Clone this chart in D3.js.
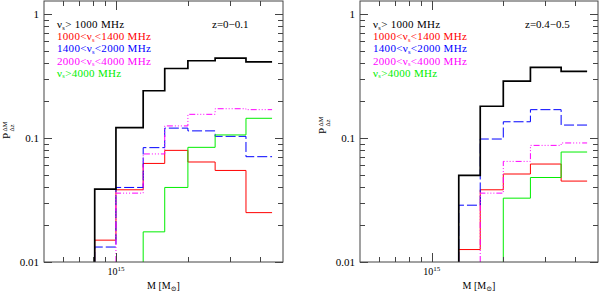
<!DOCTYPE html>
<html>
<head>
<meta charset="utf-8">
<script src="https://cdn.jsdelivr.net/npm/d3@7"></script>
<style>
  body { margin: 0; background: #fff; }
  svg text { font-family: "Liberation Serif", "DejaVu Serif", serif; }
</style>
</head>
<body>
<script>
// mass bin edges, in units of 10^15 Msun
var massEdges = [0.815, 1.0, 1.3, 1.6, 2.0, 2.6, 3.5, 4.5];

// z = 0 - 0.1
var lowAll   = [0.0387, 0.121, 0.24, 0.363, 0.419, 0.44, 0.411];
var lowBand1 = [0.015, 0.0382, 0.0623, 0.0794, 0.064, 0.0547, 0.025];
var lowBand2 = [0.0132, 0.0399, 0.0835, 0.12, 0.114, 0.103, 0.0706];
var lowBand3 = [null, 0.0359, 0.0743, 0.125, 0.155, 0.172, 0.169];
var lowBand4 = [null, null, 0.0175, 0.0399, 0.084, 0.1057, 0.144];

// z = 0.4 - 0.5
var highAll   = [null, null, 0.0499, 0.18, 0.287, 0.37, 0.344];
var highBand1 = [null, null, 0.0126, 0.0382, 0.0512, 0.0616, 0.0449];
var highBand2 = [null, null, 0.0287, 0.098, 0.135, 0.169, 0.127];
var highBand3 = [null, null, null, 0.0359, 0.0647, 0.0871, 0.0911];
var highBand4 = [null, null, null, null, 0.0327, 0.048, 0.077];

var legendLabels = [
  ["", "> 1000 MHz"],
  ["1000<", "<1400 MHz"],
  ["1400<", "<2000 MHz"],
  ["2000<", "<4000 MHz"],
  ["", ">4000 MHz"]
];
var seriesColors = ["#000000", "#ff0000", "#0000ff", "#ff00ff", "#00ee00"];
var seriesDash = [null, null, "10,3", "6,2,1,2,1,2,1,2", null];
var seriesWidth = [1.7, 1, 1, 1, 1];

var yTickLabels = [[1, "1"], [0.1, "0.1"], [0.01, "0.01"]];
var xMinorTicks = [0.6, 0.7, 0.8, 0.9, 2, 3, 4];
var yMinorTicks = [0.02, 0.03, 0.04, 0.05, 0.06, 0.07, 0.08, 0.09, 0.2, 0.3, 0.4, 0.5, 0.6, 0.7, 0.8, 0.9];

var panels = [
  { left: 44, right: 283, zText: "z=0\u22120.1", zX: 212, labelY: 139,
    series: [lowAll, lowBand1, lowBand2, lowBand3, lowBand4] },
  { left: 360, right: 598, zText: "z=0.4\u22120.5", zX: 525, labelY: 134,
    series: [highAll, highBand1, highBand2, highBand3, highBand4] }
];

var plotTop = 1, plotBottom = 262;
var frameColor = "#444";

var svg = d3.select("body").append("svg")
  .attr("width", 600)
  .attr("height", 292);

panels.forEach(function(p) {
  var x = d3.scaleLog().domain([0.5, 5]).range([p.left, p.right]);
  var y = d3.scaleLog().domain([0.01, 1.27]).range([plotBottom, plotTop]);
  var g = svg.append("g");

  // step histograms
  var line = d3.line()
    .x(function(d) { return x(d[0]); })
    .y(function(d) { return y(d[1]); })
    .curve(d3.curveStepAfter);

  // draw black last so it sits on top
  [1, 2, 3, 4, 0].forEach(function(k) {
    var vals = p.series[k];
    var start = vals.findIndex(function(v) { return v != null; });
    var pts = [[massEdges[start], 0.01]];
    for (var i = start; i < vals.length; i++) pts.push([massEdges[i], vals[i]]);
    pts.push([massEdges[vals.length], vals[vals.length - 1]]);
    g.append("path")
      .attr("d", line(pts))
      .attr("fill", "none")
      .attr("stroke", seriesColors[k])
      .attr("stroke-width", seriesWidth[k])
      .attr("stroke-dasharray", seriesDash[k]);
  });

  // frame
  g.append("rect")
    .attr("x", p.left).attr("y", plotTop)
    .attr("width", p.right - p.left).attr("height", plotBottom - plotTop)
    .attr("fill", "none").attr("stroke", frameColor).attr("stroke-width", 1);

  // x ticks, top and bottom
  var xt = xMinorTicks.map(function(v) { return [v, 5]; }).concat([[1, 9]]);
  xt.forEach(function(t) {
    var xx = Math.round(x(t[0])) + 0.5;
    g.append("line").attr("x1", xx).attr("x2", xx).attr("y1", plotBottom).attr("y2", plotBottom - t[1])
      .attr("stroke", frameColor);
    g.append("line").attr("x1", xx).attr("x2", xx).attr("y1", plotTop).attr("y2", plotTop + t[1])
      .attr("stroke", frameColor);
  });

  // y ticks, left and right
  var yt = yMinorTicks.map(function(v) { return [v, 5]; })
    .concat(yTickLabels.map(function(d) { return [d[0], 8]; }));
  yt.forEach(function(t) {
    var yy = Math.round(y(t[0])) + 0.5;
    g.append("line").attr("x1", p.left).attr("x2", p.left + t[1]).attr("y1", yy).attr("y2", yy)
      .attr("stroke", frameColor);
    g.append("line").attr("x1", p.right).attr("x2", p.right - t[1]).attr("y1", yy).attr("y2", yy)
      .attr("stroke", frameColor);
  });

  // y tick labels
  yTickLabels.forEach(function(d) {
    g.append("text")
      .attr("x", p.left - 5).attr("y", y(d[0]) + 4)
      .attr("text-anchor", "end")
      .attr("font-size", 11)
      .text(d[1]);
  });

  // x tick label 10^15
  var xl = g.append("text")
    .attr("x", x(1)).attr("y", 275)
    .attr("text-anchor", "middle")
    .attr("font-size", 10);
  xl.append("tspan").text("10");
  xl.append("tspan").attr("dy", -4).attr("font-size", 7).text("15");

  // x axis title
  var xa = g.append("text")
    .attr("x", (p.left + p.right) / 2).attr("y", 289)
    .attr("text-anchor", "middle")
    .attr("font-size", 10);
  xa.append("tspan").text("M  [M");
  xa.append("tspan").attr("dy", 2).attr("font-size", 7).text("\u2299");
  xa.append("tspan").attr("dy", -2).text("]");

  // y axis title
  var ya = g.append("text")
    .attr("transform", "translate(" + (p.left - 34) + "," + p.labelY + ") rotate(-90)")
    .attr("font-size", 11);
  ya.append("tspan").attr("x", 0).text("P");
  ya.append("tspan").attr("x", 7.5).attr("dy", -3.5).attr("font-size", 6.5).text("\u0394M");
  ya.append("tspan").attr("x", 7.5).attr("dy", 7).attr("font-size", 6.5).text("\u0394z");

  // legend
  legendLabels.forEach(function(d, i) {
    var t = g.append("text")
      .attr("x", p.left + 13).attr("y", 28 + i * 12.2)
      .attr("font-size", 11)
      .attr("letter-spacing", 0.3)
      .attr("fill", seriesColors[i]);
    t.append("tspan").text(d[0] + "\u03bd");
    t.append("tspan").attr("dy", 1.5).attr("font-size", 6.5).text("s");
    t.append("tspan").attr("dy", -1.5).text(d[1]);
  });

  g.append("text")
    .attr("x", p.zX).attr("y", 28)
    .attr("font-size", 11)
    .text(p.zText);
});
</script>
</body>
</html>
